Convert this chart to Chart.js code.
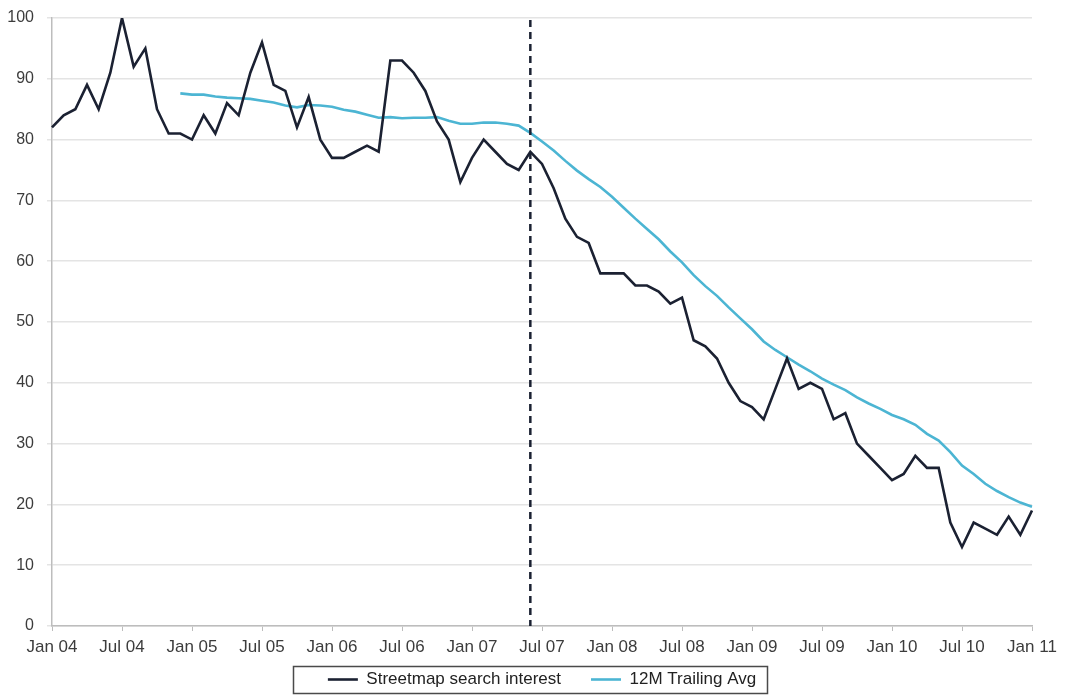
<!DOCTYPE html>
<html>
<head>
<meta charset="utf-8">
<script src="https://cdn.jsdelivr.net/npm/chart.js@4.4.1/dist/chart.umd.min.js"></script>
<style>
  html, body { margin: 0; padding: 0; background: #fff; }
  #wrap { width: 1065px; height: 695px; }
</style>
</head>
<body>
<div id="wrap"><canvas id="streetmap"></canvas></div>
<script>
// months Jan 04 .. Jan 11
const months = [
  'Jan 04','Feb 04','Mar 04','Apr 04','May 04','Jun 04','Jul 04','Aug 04','Sep 04','Oct 04','Nov 04','Dec 04',
  'Jan 05','Feb 05','Mar 05','Apr 05','May 05','Jun 05','Jul 05','Aug 05','Sep 05','Oct 05','Nov 05','Dec 05',
  'Jan 06','Feb 06','Mar 06','Apr 06','May 06','Jun 06','Jul 06','Aug 06','Sep 06','Oct 06','Nov 06','Dec 06',
  'Jan 07','Feb 07','Mar 07','Apr 07','May 07','Jun 07','Jul 07','Aug 07','Sep 07','Oct 07','Nov 07','Dec 07',
  'Jan 08','Feb 08','Mar 08','Apr 08','May 08','Jun 08','Jul 08','Aug 08','Sep 08','Oct 08','Nov 08','Dec 08',
  'Jan 09','Feb 09','Mar 09','Apr 09','May 09','Jun 09','Jul 09','Aug 09','Sep 09','Oct 09','Nov 09','Dec 09',
  'Jan 10','Feb 10','Mar 10','Apr 10','May 10','Jun 10','Jul 10','Aug 10','Sep 10','Oct 10','Nov 10','Dec 10',
  'Jan 11'
]

const searchInterest = [
  82, 84, 85, 89, 85, 91, 100, 92, 95, 85, 81, 81,
  80, 84, 81, 86, 84, 91, 96, 89, 88, 82, 87, 80,
  77, 77, 78, 79, 78, 93, 93, 91, 88, 83, 80, 73,
  77, 80, 78, 76, 75, 78, 76, 72, 67, 64, 63, 58,
  58, 58, 56, 56, 55, 53, 54, 47, 46, 44, 40, 37,
  36, 34, 39, 44, 39, 40, 39, 34, 35, 30, 28, 26,
  24, 25, 28, 26, 26, 17, 13, 17, 16, 15, 18, 15,
  19
]

const trailingAvg = [
  null, null, null, null, null, null, null, null, null, null, null, 87.6,
  87.4, 87.4, 87.1, 86.9, 86.8, 86.7, 86.4, 86.1, 85.6, 85.3, 85.7, 85.6,
  85.4, 84.9, 84.6, 84.1, 83.6, 83.7, 83.5, 83.6, 83.6, 83.7, 83.1, 82.6,
  82.6, 82.8, 82.8, 82.6, 82.3, 81.1, 79.7, 78.2, 76.5, 74.9, 73.5, 72.2,
  70.6, 68.8, 67.0, 65.3, 63.6, 61.6, 59.8, 57.7, 55.9, 54.3, 52.4, 50.6,
  48.8, 46.8, 45.4, 44.2, 43.0, 41.9, 40.7, 39.7, 38.8, 37.6, 36.6, 35.7,
  34.7, 34.0, 33.1, 31.6, 30.5, 28.6, 26.4, 25.0, 23.4, 22.2, 21.2, 20.3,
  19.6
]

const yTicks = [0, 10, 20, 30, 40, 50, 60, 70, 80, 90, 100]
const markerMonth = 'Jun 07'

const navy = '#1b2132'
const cyan = '#4cb5d3'
const legendSize = 17

// dashed vertical marker + border round the legend
const extras = {
  id: 'extras',
  afterDatasetsDraw(chart) {
    const ctx = chart.ctx
    const x = chart.scales.x.getPixelForValue(months.indexOf(markerMonth))
    const area = chart.chartArea
    ctx.save()
    ctx.strokeStyle = navy
    ctx.lineWidth = 2.5
    ctx.setLineDash([7, 5])
    ctx.beginPath()
    ctx.moveTo(x, area.top + 2)
    ctx.lineTo(x, area.bottom)
    ctx.stroke()
    ctx.restore()
  },
  afterDraw(chart) {
    const boxes = chart.legend.legendHitBoxes
    if (!boxes || !boxes.length) return
    const ctx = chart.ctx
    const left = Math.min(...boxes.map(b => b.left))
    const right = Math.max(...boxes.map(b => b.left + b.width))
    const mid = boxes[0].top + legendSize / 2
    ctx.save()
    ctx.strokeStyle = '#4a4a4a'
    ctx.lineWidth = 1.5
    ctx.strokeRect(Math.round(left - 35) + 0.5, Math.round(mid - 14) + 0.5, Math.round(right - left + 46), 27)
    ctx.restore()
  }
}

new Chart('streetmap', {
  type: 'line',
  data: {
    labels: months,
    datasets: [{
      label: 'Streetmap search interest',
      data: searchInterest,
      borderColor: navy,
      backgroundColor: navy,
      borderWidth: 2.6,
      pointRadius: 0,
      tension: 0
    }, {
      label: '12M Trailing Avg',
      data: trailingAvg,
      borderColor: cyan,
      backgroundColor: cyan,
      borderWidth: 2.6,
      pointRadius: 0,
      tension: 0
    }]
  },
  options: {
    responsive: true,
    maintainAspectRatio: false,
    animation: false,
    layout: {
      padding: { top: 18, right: 33, left: 0, bottom: -3 }
    },
    plugins: {
      legend: {
        position: 'bottom',
        fullSize: false,
        labels: {
          usePointStyle: true,
          pointStyle: 'line',
          pointStyleWidth: 30,
          padding: 30,
          color: '#222',
          font: { family: 'Liberation Sans', size: legendSize }
        }
      },
      tooltip: { enabled: false }
    },
    scales: {
      x: {
        grid: {
          drawOnChartArea: false,
          tickLength: 5,
          color: ctx => ctx.index % 6 === 0 ? '#bdbdbd' : 'rgba(0,0,0,0)'
        },
        border: { color: '#bdbdbd', width: 1.5 },
        ticks: {
          autoSkip: false,
          maxRotation: 0,
          minRotation: 0,
          padding: 6,
          color: '#3c3c3c',
          font: { family: 'Liberation Sans', size: 17 },
          callback: (v, i) => i % 6 === 0 ? months[i] : ''
        },
        afterFit: scale => {
          // thin axis box so the legend sits where it does in the original; let the labels spill below it
          scale.height = 15
          scale._computeLabelArea = () => undefined
        }
      },
      y: {
        min: yTicks[0],
        max: yTicks[yTicks.length - 1],
        afterBuildTicks: scale => { scale.ticks = yTicks.map(v => ({ value: v })) },
        grid: { color: '#e4e4e4', tickLength: 5, lineWidth: 1.5 },
        border: { color: '#bdbdbd', width: 1.5 },
        ticks: {
          padding: 13,
          color: '#3c3c3c',
          font: { family: 'Liberation Sans', size: 16 }
        },
        afterFit: scale => {
          scale.width = 52
          scale.paddingTop = 0
          scale.paddingBottom = 0
        }
      }
    }
  },
  plugins: [extras]
})
</script>
</body>
</html>
